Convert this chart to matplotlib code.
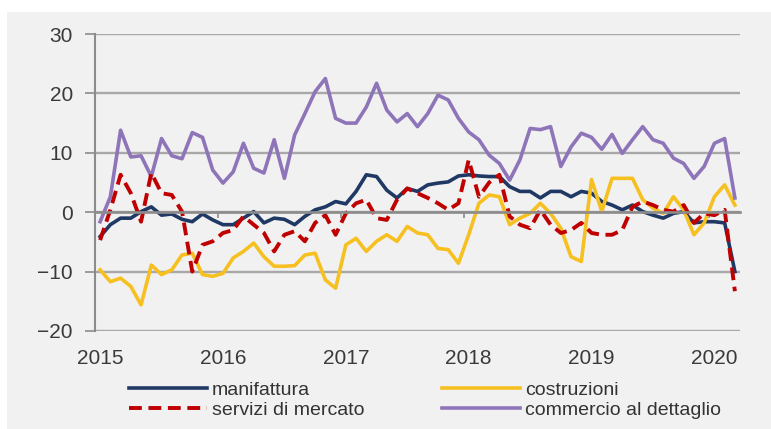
import numpy as np
import matplotlib.pyplot as plt
from matplotlib.patches import Rectangle

plt.rcParams['font.family'] = ['Liberation Sans Narrow', 'Liberation Sans', 'DejaVu Sans']

# mesi da gen 2015 a mar 2020 (indice 0..62)
years = ['2015', '2016', '2017', '2018', '2019', '2020']

manifattura = [-4.1, -2.1, -1.0, -1.0, 0.1, 0.9, -0.5, -0.3, -1.2, -1.6, -0.3, -1.3,
               -2.1, -2.1, -1.0, 0.1, -1.8, -1.0, -1.2, -2.1, -0.7, 0.4, 0.9, 1.8,
               1.4, 3.5, 6.3, 6.0, 3.7, 2.4, 4.0, 3.5, 4.6, 4.9, 5.1, 6.1,
               6.3, 6.1, 6.0, 6.0, 4.3, 3.5, 3.5, 2.4, 3.5, 3.5, 2.6, 3.5,
               3.2, 1.8, 1.2, 0.4, 1.2, 0.1, -0.5, -1.0, -0.2, 0.1, -1.8, -1.6,
               -1.6, -1.8, -10.0]

costruzioni = [-9.7, -11.7, -11.1, -12.5, -15.6, -8.9, -10.5, -9.7, -7.2, -6.9, -10.5, -10.8,
               -10.3, -7.7, -6.6, -5.2, -7.5, -9.1, -9.1, -9.0, -7.2, -6.9, -11.4, -12.8,
               -5.5, -4.4, -6.6, -4.9, -3.8, -4.9, -2.4, -3.5, -3.8, -6.1, -6.3, -8.6,
               -3.8, 1.5, 2.9, 2.6, -2.1, -1.0, -0.2, 1.5, -0.2, -2.7, -7.5, -8.3,
               5.5, 0.1, 5.7, 5.7, 5.7, 2.1, 0.7, -0.2, 2.6, 0.4, -3.8, -1.8,
               2.6, 4.6, 1.2]

servizi = [-4.7, 0.4, 6.3, 3.2, -1.6, 6.6, 3.2, 2.9, 0.1, -10.0, -5.5, -4.9,
           -3.5, -3.0, -0.7, -2.1, -3.5, -6.6, -3.8, -3.2, -4.9, -1.8, -0.5, -3.8,
           -0.2, 1.5, 2.1, -1.0, -1.3, 2.1, 4.0, 3.2, 2.4, 1.5, 0.4, 1.5,
           8.8, 2.6, 5.0, 6.3, -0.7, -2.1, -2.7, 0.4, -2.1, -3.5, -3.0, -1.8,
           -3.5, -3.8, -3.8, -3.0, 0.9, 1.8, 1.2, 0.4, 0.1, 1.2, -1.8, -0.2,
           -0.5, 0.4, -13.3]

commercio = [-1.6, 2.6, 13.8, 9.3, 9.5, 6.0, 12.4, 9.5, 9.0, 13.4, 12.6, 7.1,
             4.9, 6.8, 11.6, 7.4, 6.6, 12.2, 5.7, 13.0, 16.6, 20.3, 22.5, 15.8,
             15.0, 15.0, 17.7, 21.7, 17.2, 15.2, 16.6, 14.4, 16.6, 19.7, 18.9, 15.8,
             13.5, 12.2, 9.6, 8.2, 5.4, 8.8, 14.1, 13.9, 14.4, 7.7, 11.0, 13.3,
             12.6, 10.6, 13.1, 9.9, 12.2, 14.4, 12.2, 11.6, 9.1, 8.2, 5.7, 7.7,
             11.6, 12.4, 2.4]

months = np.arange(len(manifattura))
year_pos = np.arange(len(years)) * 12

fig = plt.figure(figsize=(7.71, 4.29), dpi=100)
fig.patches.append(Rectangle((7/771, 0), 1, 1 - 12/429, transform=fig.transFigure,
                             facecolor='#f1f1f1', edgecolor='none', zorder=-1))

ax = fig.add_axes([95/771, 1 - 331/429, 645/771, 297/429])
ax.set_facecolor('none')

lw = 2.6
l_man, = ax.plot(months, manifattura, color='#1f3864', lw=lw, label='manifattura')
l_cos, = ax.plot(months, costruzioni, color='#f7c021', lw=lw, label='costruzioni')
l_com, = ax.plot(months, commercio, color='#8e74b8', lw=lw, label='commercio al dettaglio')
l_ser, = ax.plot(months, servizi, color='#c00000', lw=lw + 0.2, dashes=(3.3, 1.7),
                 label='servizi di mercato')

ax.set_xlim(-0.5, 62.5)
ax.set_ylim(-20, 30)
ax.set_yticks(range(-20, 31, 10))
ax.set_axisbelow(True)
ax.grid(axis='y', color='#a8a8a8', lw=1.7)

for s in ['top', 'right']:
    ax.spines[s].set_visible(False)
ax.spines['bottom'].set_position(('data', 0))
ax.spines['bottom'].set_color('#8c8c8c')
ax.spines['bottom'].set_linewidth(1.9)
ax.spines['left'].set_color('#8c8c8c')
ax.spines['left'].set_linewidth(1.5)

# tacche di fine anno sull'asse dello zero
ax.set_xticks(year_pos[1:] - 0.5)
ax.set_xticklabels([])
ax.tick_params(axis='x', direction='out', length=4, width=1.2, color='#8c8c8c')
ax.tick_params(axis='y', direction='out', length=7, width=1.2, color='#8c8c8c',
               pad=9, labelsize=15, labelcolor='#3a3a3a')

sec = ax.secondary_xaxis('bottom')
sec.set_xticks(year_pos)
sec.set_xticklabels(years)
sec.tick_params(length=0, pad=13, labelsize=15, labelcolor='#3a3a3a')
sec.spines['bottom'].set_visible(False)

leg_kw = dict(loc='upper left', frameon=False, fontsize=14, handlelength=4.0,
              handletextpad=0.25, labelspacing=0.15, borderpad=0, borderaxespad=0,
              labelcolor='#333333')
fig.legend([l_man, l_ser], ['manifattura', 'servizi di mercato'],
           bbox_to_anchor=(129/771, 1 - 381/429), **leg_kw)
fig.legend([l_cos, l_com], ['costruzioni', 'commercio al dettaglio'],
           bbox_to_anchor=(442/771, 1 - 381/429), **leg_kw)

fig.savefig('out.png', dpi=100)
